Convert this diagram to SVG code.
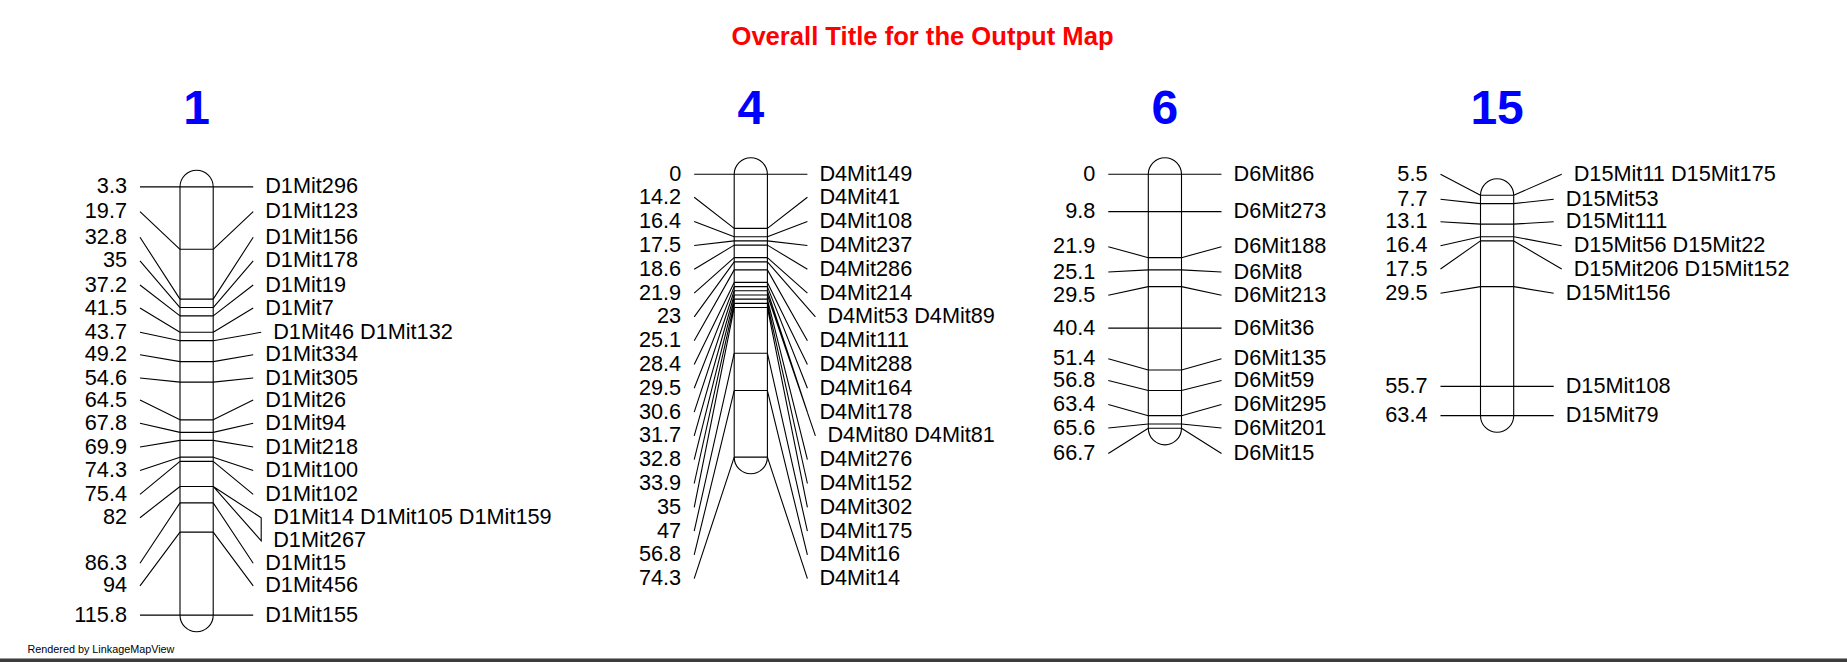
<svg xmlns="http://www.w3.org/2000/svg" width="1847" height="662" viewBox="0 0 1847 662">
<style>
.bar{fill:#fff;stroke:#000;stroke-width:1.1}
.ln{stroke:#000;stroke-width:1.1;fill:none}
.num{font-family:"Liberation Sans",Arial,sans-serif;font-size:21.7px;fill:#000;text-anchor:end}
.lab{font-family:"Liberation Sans",Arial,sans-serif;font-size:21.7px;fill:#000;text-anchor:start}
.hdr{font-family:"Liberation Sans",Arial,sans-serif;font-size:48px;font-weight:bold;fill:#0000ff;text-anchor:middle}
.title{font-family:"Liberation Sans",Arial,sans-serif;font-size:25.6px;font-weight:bold;fill:#ff0000;text-anchor:middle}
.foot{font-family:"Liberation Sans",Arial,sans-serif;font-size:10.8px;fill:#000}
</style>
<rect width="1847" height="662" fill="#fff"/>
<text class="title" x="922.5" y="45">Overall Title for the Output Map</text>

<g id="chr1">
<text class="hdr" x="196.6" y="124.3">1</text>
<path class="bar" d="M180,186.86 A16.6,16.6 0 0 1 213.2,186.86 L213.2,615.15 A16.6,16.6 0 0 1 180,615.15 Z"/>
<path class="ln" d="M180,186.86H213.2M180,249.3H213.2M180,299.17H213.2M180,307.55H213.2M180,315.92H213.2M180,332.29H213.2M180,340.67H213.2M180,361.6H213.2M180,382.16H213.2M180,419.85H213.2M180,432.41H213.2M180,440.41H213.2M180,457.16H213.2M180,461.35H213.2M180,486.47H213.2M180,502.84H213.2M180,532.16H213.2M180,615.15H213.2"/>
<text class="num" x="127" y="193.4">3.3</text>
<text class="num" x="127" y="218.2">19.7</text>
<text class="num" x="127" y="243.8">32.8</text>
<text class="num" x="127" y="267.3">35</text>
<text class="num" x="127" y="291.5">37.2</text>
<text class="num" x="127" y="314.5">41.5</text>
<text class="num" x="127" y="338.8">43.7</text>
<text class="num" x="127" y="361.2">49.2</text>
<text class="num" x="127" y="384.5">54.6</text>
<text class="num" x="127" y="406.5">64.5</text>
<text class="num" x="127" y="429.8">67.8</text>
<text class="num" x="127" y="453.5">69.9</text>
<text class="num" x="127" y="477">74.3</text>
<text class="num" x="127" y="500.8">75.4</text>
<text class="num" x="127" y="524.2">82</text>
<text class="num" x="127" y="569.8">86.3</text>
<text class="num" x="127" y="592.3">94</text>
<text class="num" x="127" y="621.7">115.8</text>
<text class="lab" x="265.2" y="193.4">D1Mit296</text>
<text class="lab" x="265.2" y="218.2">D1Mit123</text>
<text class="lab" x="265.2" y="243.8">D1Mit156</text>
<text class="lab" x="265.2" y="267.3">D1Mit178</text>
<text class="lab" x="265.2" y="291.5">D1Mit19</text>
<text class="lab" x="265.2" y="314.5">D1Mit7</text>
<text class="lab" x="273.2" y="338.8">D1Mit46 D1Mit132</text>
<text class="lab" x="265.2" y="361.2">D1Mit334</text>
<text class="lab" x="265.2" y="384.5">D1Mit305</text>
<text class="lab" x="265.2" y="406.5">D1Mit26</text>
<text class="lab" x="265.2" y="429.8">D1Mit94</text>
<text class="lab" x="265.2" y="453.5">D1Mit218</text>
<text class="lab" x="265.2" y="477">D1Mit100</text>
<text class="lab" x="265.2" y="500.8">D1Mit102</text>
<text class="lab" x="273.2" y="524.2">D1Mit14 D1Mit105 D1Mit159</text>
<text class="lab" x="273.2" y="547.3">D1Mit267</text>
<text class="lab" x="265.2" y="569.8">D1Mit15</text>
<text class="lab" x="265.2" y="592.3">D1Mit456</text>
<text class="lab" x="265.2" y="621.7">D1Mit155</text>
</g>

<g id="chr4">
<text class="hdr" x="750.8" y="124.3">4</text>
<path class="bar" d="M734.2,174.3 A16.6,16.6 0 0 1 767.4,174.3 L767.4,457.16 A16.6,16.6 0 0 1 734.2,457.16 Z"/>
<path class="ln" d="M734.2,174.3H767.4M734.2,228.36H767.4M734.2,236.73H767.4M734.2,240.92H767.4M734.2,245.11H767.4M734.2,257.67H767.4M734.2,261.86H767.4M734.2,269.86H767.4M734.2,282.42H767.4M734.2,286.61H767.4M734.2,290.79H767.4M734.2,294.98H767.4M734.2,299.17H767.4M734.2,303.36H767.4M734.2,307.55H767.4M734.2,353.23H767.4M734.2,390.54H767.4M734.2,457.16H767.4"/>
<text class="num" x="681.2" y="180.8">0</text>
<text class="num" x="681.2" y="203.8">14.2</text>
<text class="num" x="681.2" y="228">16.4</text>
<text class="num" x="681.2" y="252">17.5</text>
<text class="num" x="681.2" y="275.8">18.6</text>
<text class="num" x="681.2" y="299.6">21.9</text>
<text class="num" x="681.2" y="323.4">23</text>
<text class="num" x="681.2" y="347.2">25.1</text>
<text class="num" x="681.2" y="371">28.4</text>
<text class="num" x="681.2" y="394.8">29.5</text>
<text class="num" x="681.2" y="418.6">30.6</text>
<text class="num" x="681.2" y="442.4">31.7</text>
<text class="num" x="681.2" y="466.2">32.8</text>
<text class="num" x="681.2" y="490">33.9</text>
<text class="num" x="681.2" y="513.8">35</text>
<text class="num" x="681.2" y="537.6">47</text>
<text class="num" x="681.2" y="561.4">56.8</text>
<text class="num" x="681.2" y="585.2">74.3</text>
<text class="lab" x="819.4" y="180.8">D4Mit149</text>
<text class="lab" x="819.4" y="203.8">D4Mit41</text>
<text class="lab" x="819.4" y="228">D4Mit108</text>
<text class="lab" x="819.4" y="252">D4Mit237</text>
<text class="lab" x="819.4" y="275.8">D4Mit286</text>
<text class="lab" x="819.4" y="299.6">D4Mit214</text>
<text class="lab" x="827.4" y="323.4">D4Mit53 D4Mit89</text>
<text class="lab" x="819.4" y="347.2">D4Mit111</text>
<text class="lab" x="819.4" y="371">D4Mit288</text>
<text class="lab" x="819.4" y="394.8">D4Mit164</text>
<text class="lab" x="819.4" y="418.6">D4Mit178</text>
<text class="lab" x="827.4" y="442.4">D4Mit80 D4Mit81</text>
<text class="lab" x="819.4" y="466.2">D4Mit276</text>
<text class="lab" x="819.4" y="490">D4Mit152</text>
<text class="lab" x="819.4" y="513.8">D4Mit302</text>
<text class="lab" x="819.4" y="537.6">D4Mit175</text>
<text class="lab" x="819.4" y="561.4">D4Mit16</text>
<text class="lab" x="819.4" y="585.2">D4Mit14</text>
</g>

<g id="chr6">
<text class="hdr" x="1164.9" y="124.3">6</text>
<path class="bar" d="M1148.3,174.3 A16.6,16.6 0 0 1 1181.5,174.3 L1181.5,428.23 A16.6,16.6 0 0 1 1148.3,428.23 Z"/>
<path class="ln" d="M1148.3,174.3H1181.5M1148.3,211.61H1181.5M1148.3,257.67H1181.5M1148.3,269.86H1181.5M1148.3,286.61H1181.5M1148.3,328.1H1181.5M1148.3,369.98H1181.5M1148.3,390.54H1181.5M1148.3,415.66H1181.5M1148.3,424.04H1181.5M1148.3,428.23H1181.5"/>
<text class="num" x="1095.3" y="180.8">0</text>
<text class="num" x="1095.3" y="218.1">9.8</text>
<text class="num" x="1095.3" y="253.2">21.9</text>
<text class="num" x="1095.3" y="278.5">25.1</text>
<text class="num" x="1095.3" y="301.8">29.5</text>
<text class="num" x="1095.3" y="334.6">40.4</text>
<text class="num" x="1095.3" y="365.2">51.4</text>
<text class="num" x="1095.3" y="387">56.8</text>
<text class="num" x="1095.3" y="411">63.4</text>
<text class="num" x="1095.3" y="434.5">65.6</text>
<text class="num" x="1095.3" y="460">66.7</text>
<text class="lab" x="1233.5" y="180.8">D6Mit86</text>
<text class="lab" x="1233.5" y="218.1">D6Mit273</text>
<text class="lab" x="1233.5" y="253.2">D6Mit188</text>
<text class="lab" x="1233.5" y="278.5">D6Mit8</text>
<text class="lab" x="1233.5" y="301.8">D6Mit213</text>
<text class="lab" x="1233.5" y="334.6">D6Mit36</text>
<text class="lab" x="1233.5" y="365.2">D6Mit135</text>
<text class="lab" x="1233.5" y="387">D6Mit59</text>
<text class="lab" x="1233.5" y="411">D6Mit295</text>
<text class="lab" x="1233.5" y="434.5">D6Mit201</text>
<text class="lab" x="1233.5" y="460">D6Mit15</text>
</g>

<g id="chr15">
<text class="hdr" x="1497.1" y="124.3">15</text>
<path class="bar" d="M1480.5,195.24 A16.6,16.6 0 0 1 1513.7,195.24 L1513.7,415.66 A16.6,16.6 0 0 1 1480.5,415.66 Z"/>
<path class="ln" d="M1480.5,195.24H1513.7M1480.5,203.61H1513.7M1480.5,224.17H1513.7M1480.5,236.73H1513.7M1480.5,240.92H1513.7M1480.5,286.61H1513.7M1480.5,386.35H1513.7M1480.5,415.66H1513.7"/>
<text class="num" x="1427.5" y="180.8">5.5</text>
<text class="num" x="1427.5" y="205.8">7.7</text>
<text class="num" x="1427.5" y="228.2">13.1</text>
<text class="num" x="1427.5" y="252.2">16.4</text>
<text class="num" x="1427.5" y="275.5">17.5</text>
<text class="num" x="1427.5" y="299.8">29.5</text>
<text class="num" x="1427.5" y="392.9">55.7</text>
<text class="num" x="1427.5" y="422.2">63.4</text>
<text class="lab" x="1573.7" y="180.8">D15Mit11 D15Mit175</text>
<text class="lab" x="1565.7" y="205.8">D15Mit53</text>
<text class="lab" x="1565.7" y="228.2">D15Mit111</text>
<text class="lab" x="1573.7" y="252.2">D15Mit56 D15Mit22</text>
<text class="lab" x="1573.7" y="275.5">D15Mit206 D15Mit152</text>
<text class="lab" x="1565.7" y="299.8">D15Mit156</text>
<text class="lab" x="1565.7" y="392.9">D15Mit108</text>
<text class="lab" x="1565.7" y="422.2">D15Mit79</text>
</g>

<g id="connectors" class="ln">
<path class="ln" d="M140,186.86L180,186.86M140,211.7L180,249.3M140,237.3L180,299.17M140,260.8L180,307.55M140,285L180,315.92M140,308L180,332.29M140,332.3L180,340.67M140,354.7L180,361.6M140,378L180,382.16M140,400L180,419.85M140,423.3L180,432.41M140,447L180,440.41M140,470.5L180,457.16M140,494.3L180,461.35M140,517.7L180,486.47M140,563.3L180,502.84M140,585.8L180,532.16M140,615.15L180,615.15"/>
<path class="ln" d="M213.2,186.86L253.2,186.86M213.2,249.3L253.2,211.7M213.2,299.17L253.2,237.3M213.2,307.55L253.2,260.8M213.2,315.92L253.2,285M213.2,332.29L253.2,308M213.2,340.67L261.2,332.3M213.2,361.6L253.2,354.7M213.2,382.16L253.2,378M213.2,419.85L253.2,400M213.2,432.41L253.2,423.3M213.2,440.41L253.2,447M213.2,457.16L253.2,470.5M213.2,461.35L253.2,494.3M213.2,486.47L261.2,517.7L261.2,540.8L213.2,486.47M213.2,502.84L253.2,563.3M213.2,532.16L253.2,585.8M213.2,615.15L253.2,615.15"/>
<path class="ln" d="M694.2,174.3L734.2,174.3M694.2,197.3L734.2,228.36M694.2,221.5L734.2,236.73M694.2,245.5L734.2,240.92M694.2,269.3L734.2,245.11M694.2,293.1L734.2,257.67M694.2,316.9L734.2,261.86M694.2,340.7L734.2,269.86M694.2,364.5L734.2,282.42M694.2,388.3L734.2,286.61M694.2,412.1L734.2,290.79M694.2,435.9L734.2,294.98M694.2,459.7L734.2,299.17M694.2,483.5L734.2,303.36M694.2,507.3L734.2,307.55M694.2,531.1L734.2,353.23M694.2,554.9L734.2,390.54M694.2,578.7L734.2,457.16"/>
<path class="ln" d="M767.4,174.3L807.4,174.3M767.4,228.36L807.4,197.3M767.4,236.73L807.4,221.5M767.4,240.92L807.4,245.5M767.4,245.11L807.4,269.3M767.4,257.67L807.4,293.1M767.4,261.86L815.4,316.9M767.4,269.86L807.4,340.7M767.4,282.42L807.4,364.5M767.4,286.61L807.4,388.3M767.4,290.79L807.4,412.1M767.4,294.98L815.4,435.9M767.4,299.17L807.4,459.7M767.4,303.36L807.4,483.5M767.4,307.55L807.4,507.3M767.4,353.23L807.4,531.1M767.4,390.54L807.4,554.9M767.4,457.16L807.4,578.7"/>
<path class="ln" d="M1108.3,174.3L1148.3,174.3M1108.3,211.61L1148.3,211.61M1108.3,246.7L1148.3,257.67M1108.3,272L1148.3,269.86M1108.3,295.3L1148.3,286.61M1108.3,328.1L1148.3,328.1M1108.3,358.7L1148.3,369.98M1108.3,380.5L1148.3,390.54M1108.3,404.5L1148.3,415.66M1108.3,428L1148.3,424.04M1108.3,453.5L1148.3,428.23"/>
<path class="ln" d="M1181.5,174.3L1221.5,174.3M1181.5,211.61L1221.5,211.61M1181.5,257.67L1221.5,246.7M1181.5,269.86L1221.5,272M1181.5,286.61L1221.5,295.3M1181.5,328.1L1221.5,328.1M1181.5,369.98L1221.5,358.7M1181.5,390.54L1221.5,380.5M1181.5,415.66L1221.5,404.5M1181.5,424.04L1221.5,428M1181.5,428.23L1221.5,453.5"/>
<path class="ln" d="M1440.5,174.3L1480.5,195.24M1440.5,199.3L1480.5,203.61M1440.5,221.7L1480.5,224.17M1440.5,245.7L1480.5,236.73M1440.5,269L1480.5,240.92M1440.5,293.3L1480.5,286.61M1440.5,386.35L1480.5,386.35M1440.5,415.66L1480.5,415.66"/>
<path class="ln" d="M1513.7,195.24L1561.7,174.3M1513.7,203.61L1553.7,199.3M1513.7,224.17L1553.7,221.7M1513.7,236.73L1561.7,245.7M1513.7,240.92L1561.7,269M1513.7,286.61L1553.7,293.3M1513.7,386.35L1553.7,386.35M1513.7,415.66L1553.7,415.66"/>
</g>

<text class="foot" x="27.5" y="653.3">Rendered by LinkageMapView</text>
<rect x="0" y="658" width="1847" height="1" fill="#9a9a9a"/>
<rect x="0" y="659" width="1847" height="3" fill="#3c3c3c"/>
</svg>
